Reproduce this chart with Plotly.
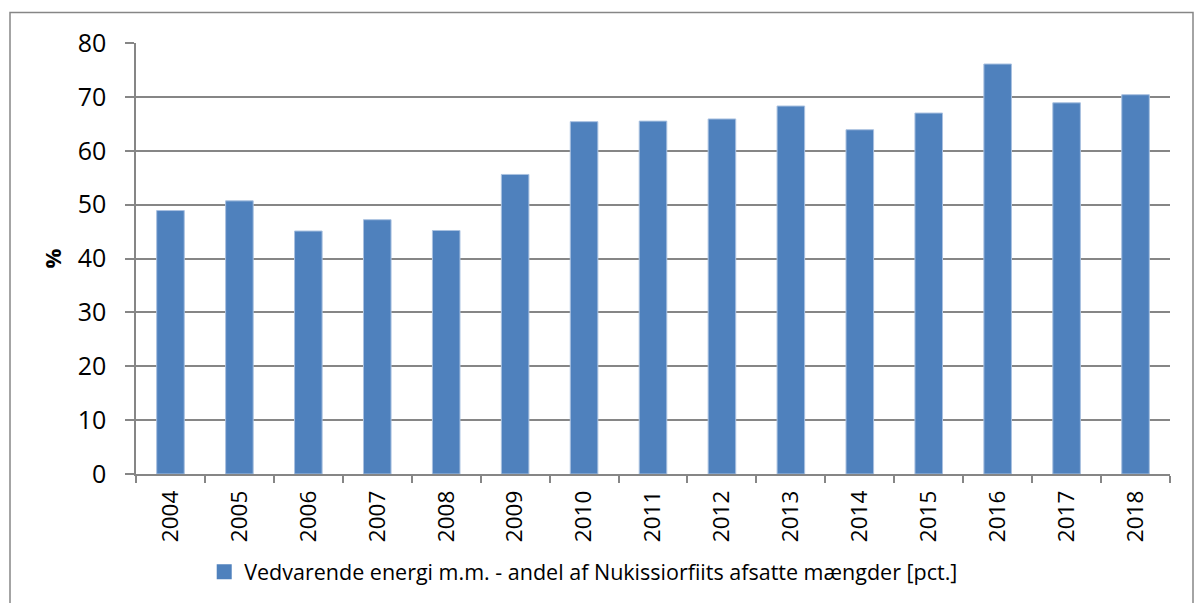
import plotly.graph_objects as go

years = ["2004", "2005", "2006", "2007", "2008", "2009", "2010", "2011",
         "2012", "2013", "2014", "2015", "2016", "2017", "2018"]
values = [48.9, 50.7, 45.1, 47.2, 45.2, 55.6, 65.4, 65.5,
          65.9, 68.3, 63.9, 67.0, 76.1, 68.9, 70.4]
series_name = "Vedvarende energi m.m. - andel af Nukissiorfiits afsatte mængder [pct.]"
y_ticks = [0, 10, 20, 30, 40, 50, 60, 70, 80]

grid = "#868686"
bar_color = "#4F81BD"
font_family = "Open Sans, Noto Sans, Liberation Sans, sans-serif"

fig = go.Figure()
fig.add_trace(go.Bar(
    x=years, y=values, name=series_name,
    marker=dict(color=bar_color, line=dict(color="#A9C1E0", width=1)),
    showlegend=False,
))
# legend entry with a square swatch like the reference
fig.add_trace(go.Scatter(
    x=[None], y=[None], mode="markers", name=series_name,
    marker=dict(symbol="square", size=15, color=bar_color),
    showlegend=True,
))

fig.update_layout(
    width=1194, height=603,
    margin=dict(l=136, r=24, t=43, b=128),
    paper_bgcolor="white", plot_bgcolor="white",
    font=dict(family=font_family, color="black"),
    bargap=0.6,
    showlegend=True,
    legend=dict(orientation="h", x=0.433, xanchor="center", y=-0.224, yanchor="middle",
                font=dict(size=21.5, family=font_family),
                bgcolor="rgba(0,0,0,0)", itemwidth=30),
    xaxis=dict(
        type="category", showline=True, linecolor=grid, linewidth=1.5,
        ticks="outside", tickson="boundaries", ticklen=7, tickcolor=grid, tickwidth=1.5,
        tickangle=-90, tickfont=dict(size=22.5), showgrid=False, ticklabelstandoff=6,
    ),
    yaxis=dict(
        range=[0, 80], tickvals=y_ticks, showline=True, linecolor=grid, linewidth=1.5,
        ticks="outside", ticklen=9, tickcolor=grid, tickwidth=1.5,
        showgrid=True, gridcolor=grid, gridwidth=1.5, zeroline=False,
        tickfont=dict(size=25), ticklabelstandoff=14,
        title=dict(text="<b>%</b>", font=dict(size=22), standoff=10),
    ),
    shapes=[dict(type="rect", xref="paper", yref="paper",
                 x0=(10 - 136) / 1034, x1=(1193 - 136) / 1034,
                 y0=(475 - 620) / 432, y1=(475 - 12.5) / 432,
                 line=dict(color=grid, width=1.5), fillcolor="rgba(0,0,0,0)", layer="below")],
)

fig.write_html("out.html", config={"displayModeBar": False},
               post_script="document.body.style.margin='0';document.body.style.overflow='hidden';")
